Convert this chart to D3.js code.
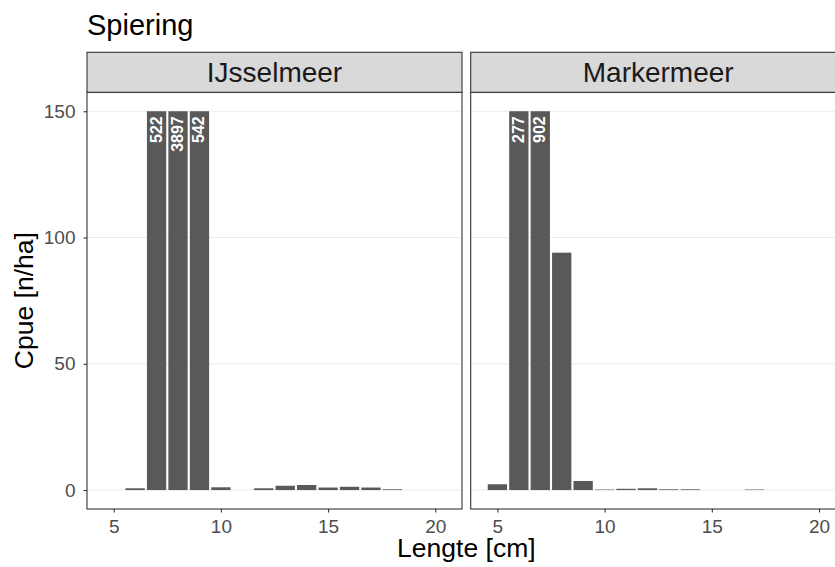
<!DOCTYPE html>
<html>
<head>
<meta charset="utf-8">
<script src="https://cdn.jsdelivr.net/npm/d3@7"></script>
<style>
  body { margin: 0; background: #fff; }
  svg { display: block; font-family: "Liberation Sans", Arial, sans-serif; }
</style>
</head>
<body>
<svg id="chart" width="835" height="567"></svg>
<script>
// Length-frequency of smelt (spiering) per lake, catch per unit effort
const title = "Spiering";
const lakes = ["IJsselmeer", "Markermeer"];
const ijsselLength = [6, 7, 8, 9, 10, 12, 13, 14, 15, 16, 17, 18];
const ijsselCpue   = [0.7, 522, 3897, 542, 1.1, 0.7, 1.7, 2.0, 1.0, 1.3, 1.0, 0.3];
const markerLength = [5, 6, 7, 8, 9, 10, 11, 12, 13, 14, 17];
const markerCpue   = [2.3, 277, 902, 94, 3.6, 0.2, 0.5, 0.7, 0.3, 0.3, 0.2];
const xTicks = [5, 10, 15, 20];
const yTicks = [0, 50, 100, 150];
const yCap = 150;   // bars above this are cut off and labelled with their value

const series = [
  { lake: lakes[0], data: ijsselLength.map((l, i) => ({ l, v: ijsselCpue[i] })) },
  { lake: lakes[1], data: markerLength.map((l, i) => ({ l, v: markerCpue[i] })) }
];

const svg = d3.select("#chart");
const panelW = 375, gap = 8.7;
const left0 = 87, panelTop = 92.3, panelBottom = 509, stripTop = 52.3;
const tickFont = 19;

const y = d3.scaleLinear().domain([-7.5, 157.5]).range([panelBottom, panelTop]);

svg.append("text").attr("x", left0).attr("y", 35)
  .attr("font-size", 29).attr("fill", "#000").text(title);

series.forEach((s, k) => {
  const x0 = left0 + k * (panelW + gap);
  const x = d3.scaleLinear().domain([3.755, 21.245]).range([x0, x0 + panelW]);
  const g = svg.append("g");

  // horizontal grid
  g.selectAll("line.grid").data(yTicks).join("line")
    .attr("x1", x0).attr("x2", x0 + panelW)
    .attr("y1", d => y(d)).attr("y2", d => y(d))
    .attr("stroke", "#ebebeb").attr("stroke-width", 1.1);

  // bars, truncated at the cap
  const bw = x(0.9) - x(0);
  g.selectAll("rect.bar").data(s.data).join("rect")
    .attr("x", d => x(d.l) - bw / 2).attr("width", bw)
    .attr("y", d => y(Math.min(d.v, yCap)))
    .attr("height", d => y(0) - y(Math.min(d.v, yCap)))
    .attr("fill", "#595959");

  // value labels for truncated bars
  g.selectAll("text.lab").data(s.data.filter(d => d.v > yCap)).join("text")
    .attr("transform", d => `translate(${x(d.l) + 5},${y(yCap) + 5}) rotate(-90)`)
    .attr("text-anchor", "end")
    .attr("font-size", 16).attr("font-weight", "bold").attr("fill", "#fff")
    .text(d => d.v);

  // panel border
  g.append("rect").attr("x", x0).attr("y", panelTop).attr("width", panelW).attr("height", panelBottom - panelTop)
    .attr("fill", "none").attr("stroke", "#333").attr("stroke-width", 1.1);

  // strip
  g.append("rect").attr("x", x0).attr("y", stripTop).attr("width", panelW).attr("height", panelTop - stripTop)
    .attr("fill", "#d9d9d9").attr("stroke", "#333").attr("stroke-width", 1.1);
  g.append("text").attr("x", x0 + panelW / 2).attr("y", 82)
    .attr("text-anchor", "middle").attr("font-size", 28).attr("fill", "#1a1a1a")
    .text(s.lake);

  // x axis
  const xa = g.append("g").attr("transform", `translate(0,${panelBottom})`)
    .call(d3.axisBottom(x).tickValues(xTicks).tickSize(3.5).tickPadding(7).tickFormat(d3.format("d")));
  xa.select(".domain").remove();
  xa.selectAll("line").attr("stroke", "#333").attr("stroke-width", 1.1);
  xa.selectAll("text").attr("font-size", tickFont).attr("fill", "#4d4d4d").attr("font-family", null);

  if (k === 0) {
    const ya = g.append("g").attr("transform", `translate(${x0},0)`)
      .call(d3.axisLeft(y).tickValues(yTicks).tickSize(3.5).tickPadding(8));
    ya.select(".domain").remove();
    ya.selectAll("line").attr("stroke", "#333").attr("stroke-width", 1.1);
    ya.selectAll("text").attr("font-size", tickFont).attr("fill", "#4d4d4d").attr("font-family", null);
  }
});

svg.append("text").attr("x", (left0 + left0 + 2 * panelW + gap) / 2).attr("y", 557)
  .attr("text-anchor", "middle").attr("font-size", 26.5).attr("fill", "#000").text("Lengte [cm]");
svg.append("text").attr("transform", `translate(33,${(panelTop + panelBottom) / 2}) rotate(-90)`)
  .attr("text-anchor", "middle").attr("font-size", 26.5).attr("fill", "#000").text("Cpue [n/ha]");
</script>
</body>
</html>
